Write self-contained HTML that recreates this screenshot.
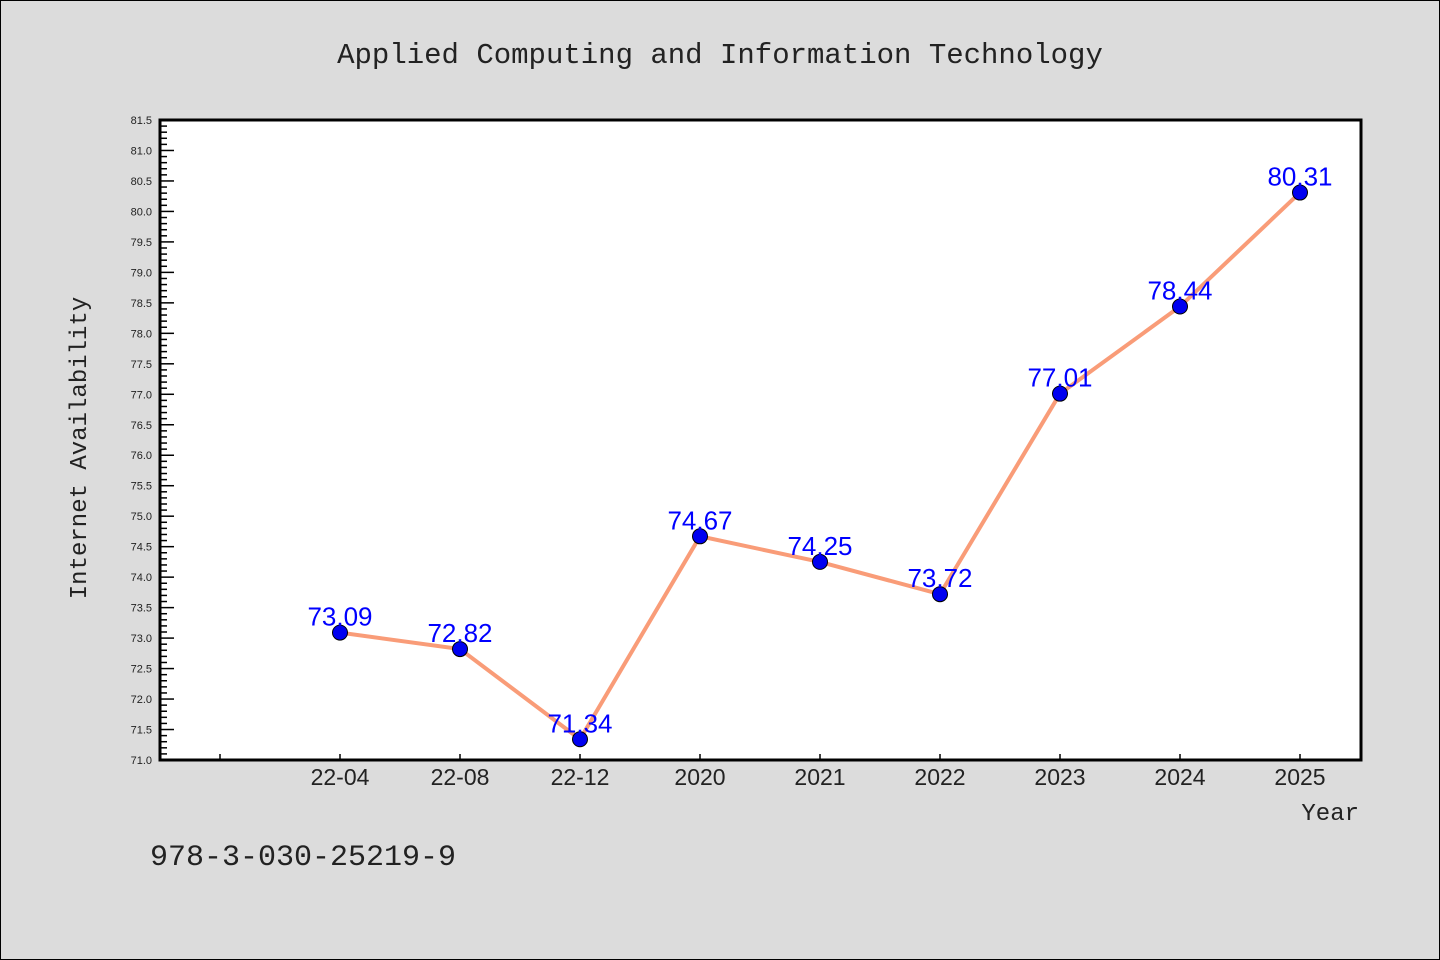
<!DOCTYPE html>
<html><head><meta charset="utf-8"><style>
body{margin:0;background:#dcdcdc;}
svg{display:block;font-family:"Liberation Mono","DejaVu Sans Mono",monospace;}
</style></head><body>
<svg id="chart" width="1440" height="960" xmlns="http://www.w3.org/2000/svg">
<rect x="0.5" y="0.5" width="1439" height="959" fill="#dcdcdc" stroke="#000" stroke-width="1"/>
<text x="720" y="63" text-anchor="middle" font-size="29" fill="#222">Applied Computing and Information Technology</text>
<rect x="160" y="120" width="1201" height="640" fill="#fff"/>
<g id="axes"></g>
<g id="series"></g>
<rect x="160" y="120" width="1201" height="640" fill="none" stroke="#000" stroke-width="3"/>
<text x="86" y="448" transform="rotate(-90 86 448)" text-anchor="middle" font-size="24" fill="#222">Internet Availability</text>
<text x="1359" y="820" text-anchor="end" font-size="24" fill="#222">Year</text>
<text x="150" y="865" font-size="30" fill="#222">978-3-030-25219-9</text>
</svg>
<script>
const categories = ["22-04","22-08","22-12","2020","2021","2022","2023","2024","2025"];
const values = [73.09,72.82,71.34,74.67,74.25,73.72,77.01,78.44,80.31];
const valueLabels = ["73.09","72.82","71.34","74.67","74.25","73.72","77.01","78.44","80.31"];
const yMin = 71.0, yMax = 81.5;
const NS="http://www.w3.org/2000/svg";
const L=160,R=1361,T=120,B=760;
function y(v){return B-(v-yMin)/(yMax-yMin)*(B-T);}
function x(i){return 340+120*i;}
function mk(tag,attrs,parent){const e=document.createElementNS(NS,tag);for(const k in attrs)e.setAttribute(k,attrs[k]);parent.appendChild(e);return e;}
const axes=document.getElementById('axes'), series=document.getElementById('series');
const nMinor=Math.round((yMax-yMin)*10);
for(let k=0;k<=nMinor;k++){
  const v=yMin+k*0.1, major=k%5===0;
  const t=mk('line',{x1:L,x2:L+(major?14:7),y1:y(v),y2:y(v),stroke:'#000','stroke-width':1.5},axes);
  
  
  if(major){
    const lb=mk('text',{x:L-8,y:y(v)+4,'text-anchor':'end','font-size':11,fill:'#222','font-family':'Liberation Sans, sans-serif'},axes);
    lb.textContent=v.toFixed(1);
    
    
  }
}
for(let i=-1;i<categories.length;i++){
  const t=mk('line',{x1:x(i),x2:x(i),y1:B,y2:B-6,stroke:'#000','stroke-width':1.5},axes);
  
  
  if(i>=0){
    const lb=mk('text',{x:x(i),y:B+25,'text-anchor':'middle','font-size':23,fill:'#222','font-family':'Liberation Sans, sans-serif'},axes);
    lb.textContent=categories[i];
    
    
  }
}
const line=mk('polyline',{points:values.map((v,i)=>x(i)+','+y(v)).join(' '),fill:'none',stroke:'#f99c78','stroke-width':4},series);


values.forEach((v,i)=>{
  const c=mk('circle',{cx:x(i),cy:y(v),r:7.5,fill:'#0000f0',stroke:'#000','stroke-width':1},series);
  
  
  const t=mk('text',{x:x(i),y:y(v)-7,'text-anchor':'middle','font-size':26,fill:'#0000ff','font-family':'Liberation Sans, sans-serif'},series);
  t.textContent=valueLabels[i];
  
  
});
</script>
</body></html>
